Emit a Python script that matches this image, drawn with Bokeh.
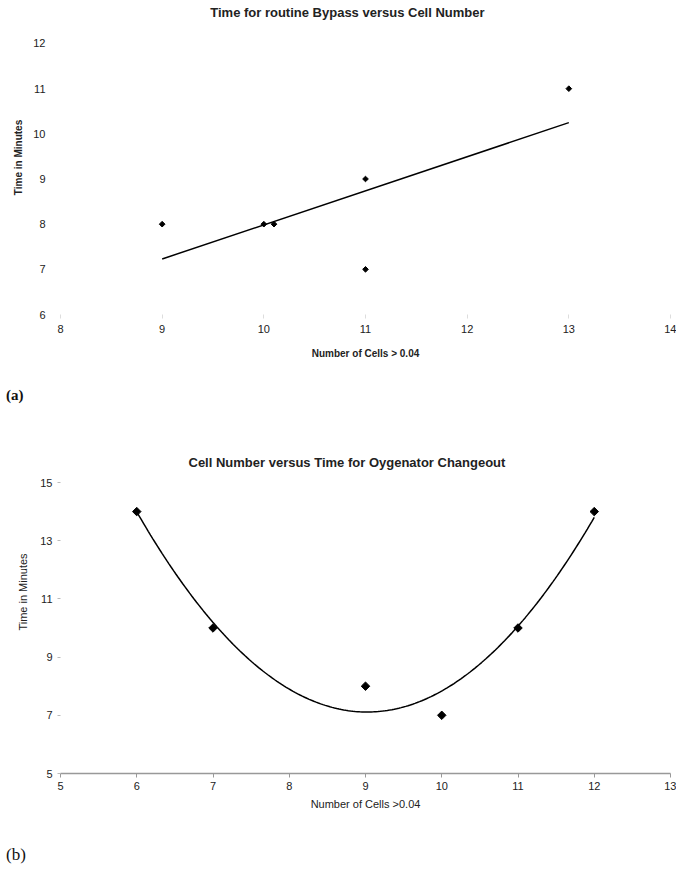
import numpy as np
from bokeh.plotting import figure
from bokeh.models import FixedTicker, Label, Range1d, Div
from bokeh.layouts import column
from bokeh.embed import file_html
from bokeh.resources import INLINE

# ---- data (a) ----
a_cells = [9, 10, 10.1, 11, 11, 13]
a_time = [8, 8, 8, 9, 7, 11]
a_xticks = [8, 9, 10, 11, 12, 13, 14]
a_yticks = [6, 7, 8, 9, 10, 11, 12]

# ---- data (b) ----
b_cells = [6, 7, 9, 10, 11, 12]
b_time = [14, 10, 8, 7, 10, 14]
b_xticks = [5, 6, 7, 8, 9, 10, 11, 12, 13]
b_yticks = [5, 7, 9, 11, 13, 15]

FONT = "Liberation Sans"
SERIF = "Liberation Serif"


def style_common(p):
    p.xgrid.visible = False
    p.ygrid.visible = False
    p.outline_line_color = None
    p.background_fill_color = "white"
    p.border_fill_color = "white"
    for ax in (p.xaxis[0], p.yaxis[0]):
        ax.major_label_text_font = FONT
        ax.major_label_text_font_size = "11px"
        ax.major_label_text_color = "#222222"
        ax.axis_label_text_font = FONT
        ax.axis_label_text_color = "#222222"
        ax.minor_tick_line_color = None


# ---------------- chart (a) ----------------
# pixel scale of chart (a): 102.5 px per cell, 45.17 px per minute
A_TOP_PAD = 43 / 45.17   # blank room above 12 for the title (no axis line is drawn)
p1 = figure(width=676, height=380, output_backend="svg", toolbar_location=None, title=None,
            x_range=Range1d(8, 14), y_range=Range1d(6, 12 + A_TOP_PAD),
            min_border_left=59, min_border_right=2, min_border_top=0, min_border_bottom=66)
style_common(p1)

p1.xaxis.ticker = FixedTicker(ticks=a_xticks)
p1.yaxis.ticker = FixedTicker(ticks=a_yticks)
p1.xaxis.axis_line_color = None
p1.yaxis.axis_line_color = None
p1.xaxis.major_tick_line_color = "#dddddd"
p1.yaxis.major_tick_line_color = None
p1.xaxis.major_tick_in = 0
p1.xaxis.major_tick_out = 4
p1.xaxis.major_label_standoff = 6
p1.yaxis.major_label_standoff = 9
p1.xaxis.axis_label = "Number of Cells > 0.04"
p1.xaxis.axis_label_text_font_size = "10px"
p1.xaxis.axis_label_text_font_style = "bold"
p1.xaxis.axis_label_standoff = 12
p1.yaxis.axis_label = "Time in Minutes"
p1.yaxis.axis_label_text_font_size = "10px"
p1.yaxis.axis_label_text_font_style = "bold"
p1.yaxis.axis_label_standoff = 6

p1.add_layout(Label(x=8 + 151 / 102.5, y=12 + 31 / 45.17,
                    text="Time for routine Bypass versus Cell Number",
                    text_font=FONT, text_font_size="13px", text_font_style="bold",
                    text_color="#222222", text_baseline="middle", text_align="left"))

# linear trend line (least squares fit of the data)
k, c = np.polyfit(a_cells, a_time, 1)
tx = [min(a_cells), max(a_cells)]
p1.line(tx, [k * v + c for v in tx], line_color="black", line_width=1.5)
p1.scatter(a_cells, a_time, marker="square", angle=np.pi / 4, size=4,
           fill_color="black", line_color="black")

lab_a = Div(text="(a)", width=676, height=30, margin=0,
            styles={"font-family": SERIF, "font-size": "15px", "font-weight": "bold",
                    "color": "#111111", "padding-left": "6px", "line-height": "30px"})

# ---------------- chart (b) ----------------
# pixel scale of chart (b): 76.25 px per cell, 29.1 px per minute
B_TOP_PAD = 72 / 29.1
p2 = figure(width=676, height=430, output_backend="svg", toolbar_location=None, title=None,
            x_range=Range1d(5, 13), y_range=Range1d(5, 15 + B_TOP_PAD),
            min_border_left=60, min_border_right=6, min_border_top=0, min_border_bottom=67)
style_common(p2)

p2.xaxis.ticker = FixedTicker(ticks=b_xticks)
p2.yaxis.ticker = FixedTicker(ticks=b_yticks)
p2.xaxis.axis_line_color = "#999999"
p2.xaxis.axis_line_width = 1.5
p2.yaxis.axis_line_color = None
p2.xaxis.major_tick_line_color = "#999999"
p2.yaxis.major_tick_line_color = "#bbbbbb"
p2.xaxis.major_tick_in = 0
p2.xaxis.major_tick_out = 4
p2.yaxis.major_tick_in = 0
p2.yaxis.major_tick_out = 3
p2.xaxis.major_label_standoff = 4
p2.yaxis.major_label_standoff = 5
p2.xaxis.axis_label = "Number of Cells >0.04"
p2.xaxis.axis_label_text_font_size = "11px"
p2.xaxis.axis_label_text_font_style = "normal"
p2.xaxis.axis_label_standoff = 5
p2.yaxis.axis_label = "Time in Minutes"
p2.yaxis.axis_label_text_font_size = "11px"
p2.yaxis.axis_label_text_font_style = "normal"
p2.yaxis.axis_label_standoff = 8

p2.add_layout(Label(x=5 + 128 / 76.25, y=15 + 20 / 29.1,
                    text="Cell Number versus Time for Oygenator Changeout",
                    text_font=FONT, text_font_size="13px", text_font_style="bold",
                    text_color="#222222", text_baseline="middle", text_align="left"))

# second-order polynomial trend line (least squares fit of the data)
coef = np.polyfit(b_cells, b_time, 2)
cx = np.linspace(min(b_cells), max(b_cells), 200)
p2.line(cx, np.polyval(coef, cx), line_color="black", line_width=1.5)
p2.scatter(b_cells, b_time, marker="square", angle=np.pi / 4, size=6,
           fill_color="black", line_color="black")

lab_b = Div(text="(b)", width=676, height=29, margin=0,
            styles={"font-family": SERIF, "font-size": "17px",
                    "color": "#111111", "padding-left": "6px", "line-height": "29px"})

layout = column(p1, lab_a, p2, lab_b, spacing=0)
open("out.html", "w").write(file_html(layout, INLINE))
